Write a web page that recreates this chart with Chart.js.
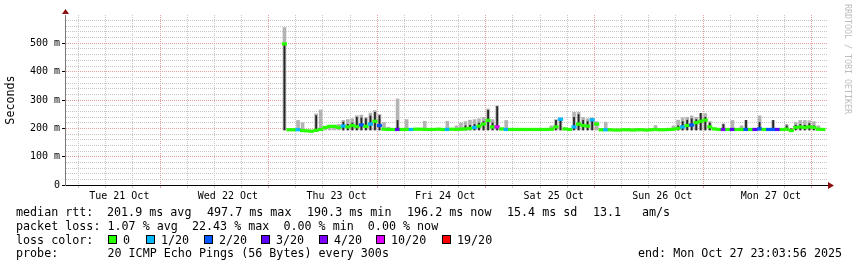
<!DOCTYPE html>
<html lang="en">
<head>
  <meta charset="UTF-8">
  <title>median rtt - last week</title>
  <script src="https://cdn.jsdelivr.net/npm/chart.js"></script>
  <style>
    body { margin: 0; background: #fff; }
    #wrap { position: relative; width: 857px; height: 267px; }
    .txt { position: absolute; font-family: 'DejaVu Sans Mono', monospace; font-size: 11.7px; line-height: 14px; color: #000; white-space: pre; }
    .box { position: absolute; top: 235px; width: 7px; height: 7px; border: 1px solid #000; }
    #credit { position: absolute; left: 843px; top: 4px; font-family: 'DejaVu Sans Mono', monospace; font-size: 8.3px; color: #bdbdbd; writing-mode: vertical-rl; white-space: pre; }
  </style>
</head>
<body>
<div id="wrap">
  <canvas id="grafico"></canvas>
  <div id="credit">RRDTOOL / TOBI OETIKER</div>
  <div id="legenda"></div>
</div>

<script>
// hours are counted from Tue 21 Oct 00:00, one bin per hour
const firstHour = 48;
const dayLabels = ['Tue 21 Oct', 'Wed 22 Oct', 'Thu 23 Oct', 'Fri 24 Oct', 'Sat 25 Oct', 'Sun 26 Oct', 'Mon 27 Oct'];
const lossLabels = ['0', '1/20', '2/20', '3/20', '4/20', '10/20', '19/20'];
const lossColors = ['#26ff00', '#00b8ff', '#0059ff', '#5e00ff', '#7e00ff', '#dd00ff', '#ff0000'];

// median rtt in ms
const medianMs = [
  498, 195, 195, 195, 192, 191, 190, 193, 196, 203,
  207, 207, 203, 208, 205, 210, 206, 212, 207, 215,
  225, 210, 197, 196, 196, 196, 196, 196, 196, 197,
  197, 196, 196, 196, 197, 196, 196, 197, 196, 197,
  198, 200, 203, 208, 215, 228, 205, 205, 198, 196,
  196, 196, 196, 196, 196, 196, 196, 196, 196, 197,
  205, 232, 198, 196, 205, 215, 210, 208, 230, 215,
  195, 195, 195, 194, 194, 195, 195, 194, 195, 195,
  194, 195, 196, 195, 195, 196, 197, 200, 205, 210,
  212, 220, 225, 229, 205, 198, 196, 196, 196, 196,
  196, 196, 196, 196, 196, 198, 196, 196, 196, 196,
  196, 197, 192, 203, 205, 203, 205, 203, 197, 196
];
// index into lossLabels
const lossIdx = [
  0, 0, 0, 1, 0, 0, 0, 0, 0, 0,
  0, 0, 0, 1, 0, 0, 0, 2, 0, 1,
  0, 2, 0, 0, 0, 3, 0, 0, 1, 0,
  0, 0, 0, 0, 0, 0, 1, 0, 0, 0,
  0, 0, 1, 0, 0, 0, 0, 5, 0, 1,
  0, 0, 0, 0, 0, 0, 0, 0, 0, 0,
  0, 1, 0, 0, 1, 0, 0, 0, 1, 0,
  0, 1, 0, 0, 0, 0, 0, 0, 0, 0,
  0, 0, 0, 0, 0, 0, 0, 0, 1, 0,
  2, 0, 0, 0, 0, 0, 0, 4, 0, 3,
  0, 0, 2, 0, 3, 2, 0, 2, 2, 3,
  0, 0, 0, 0, 0, 0, 0, 0, 0, 0
];
// top of the light smoke (0 = only a thin band round the median)
const smokeTopMs = [
  557, 0, 0, 229, 221, 0, 0, 252, 266, 0,
  0, 0, 215, 229, 232, 235, 246, 248, 240, 255,
  264, 250, 222, 205, 0, 305, 0, 232, 0, 0,
  0, 226, 0, 0, 0, 0, 226, 0, 210, 220,
  225, 230, 232, 235, 240, 270, 232, 281, 0, 229,
  0, 0, 0, 0, 0, 0, 0, 0, 0, 210,
  232, 238, 0, 0, 258, 258, 240, 235, 238, 225,
  0, 223, 0, 0, 0, 0, 0, 0, 0, 0,
  0, 0, 211, 0, 0, 0, 210, 230, 238, 240,
  245, 240, 253, 253, 225, 0, 0, 217, 0, 229,
  0, 210, 229, 0, 0, 245, 0, 0, 229, 0,
  0, 215, 0, 222, 229, 229, 228, 225, 210, 0
];
// top of the dark smoke (0 = none)
const smokeDarkMs = [
  495, 0, 0, 0, 0, 0, 0, 246, 0, 0,
  0, 0, 0, 223, 215, 220, 240, 238, 235, 245,
  258, 246, 0, 0, 0, 229, 0, 0, 0, 0,
  0, 0, 0, 0, 0, 0, 0, 0, 0, 0,
  210, 212, 215, 220, 225, 265, 220, 278, 0, 0,
  0, 0, 0, 0, 0, 0, 0, 0, 0, 0,
  229, 235, 0, 0, 240, 250, 229, 225, 234, 0,
  0, 0, 0, 0, 0, 0, 0, 0, 0, 0,
  0, 0, 200, 0, 0, 0, 0, 210, 225, 230,
  235, 232, 254, 240, 220, 0, 0, 215, 0, 0,
  0, 0, 229, 0, 0, 222, 0, 0, 229, 0,
  0, 210, 200, 212, 215, 212, 218, 210, 0, 0
];

const yTicks = [];
for (let v = 0; v <= 580; v += 20) yTicks.push(v);
const xTicks = [];
for (let h = 0; h <= 168; h += 6) xTicks.push(h);

const times = medianMs.map((_, i) => firstHour + i + 0.5);
const base = i => Math.min(medianMs[i], 196) - 3;

const medianBars = times.map((t, i) => ({ x: t, y: [medianMs[i] - 4.5, medianMs[i] + 4.5] }));
const lightSmoke = times.map((t, i) => ({ x: t, y: [base(i), smokeTopMs[i] || medianMs[i] + 4] }));
const darkSmoke = [];
times.forEach((t, i) => { if (smokeDarkMs[i]) darkSmoke.push({ x: t, y: [base(i), smokeDarkMs[i]] }); });

const fonte = { family: 'DejaVu Sans Mono', size: 10 };
const vermelho = '#e9a0a0';
const cinza = '#c6c6c6';

const setas = {
  id: 'setas',
  afterDraw(chart) {
    const { ctx, chartArea: a } = chart;
    ctx.save();
    ctx.fillStyle = '#8b1010';
    ctx.beginPath();
    ctx.moveTo(a.left - 3, a.top - 1);
    ctx.lineTo(a.left + 4, a.top - 1);
    ctx.lineTo(a.left + 0.5, a.top - 6);
    ctx.fill();
    ctx.beginPath();
    ctx.moveTo(a.right + 1, a.bottom - 3);
    ctx.lineTo(a.right + 1, a.bottom + 4);
    ctx.lineTo(a.right + 7, a.bottom + 0.5);
    ctx.fill();
    ctx.restore();
  }
};

new Chart(document.getElementById('grafico'), {
  type: 'bar',
  data: {
    datasets: [
      { data: medianBars, order: 0, grouped: false, barPercentage: 1, categoryPercentage: 1,
        backgroundColor: c => lossColors[lossIdx[c.dataIndex]] },
      { data: darkSmoke, order: 1, grouped: false, barPercentage: 0.4, categoryPercentage: 1,
        backgroundColor: '#262626' },
      { data: lightSmoke, order: 2, grouped: false, barPercentage: 0.8, categoryPercentage: 1,
        backgroundColor: '#b3b3b3' }
    ]
  },
  options: {
    responsive: true,
    maintainAspectRatio: false,
    animation: false,
    layout: { padding: { top: 15, right: 30, left: 0, bottom: 0 } },
    plugins: { legend: { display: false }, tooltip: { enabled: false } },
    scales: {
      x: {
        type: 'linear', min: 0, max: 168.4, offset: false,
        afterFit(s) { s.height = 82; },
        afterBuildTicks(s) { s.ticks = xTicks.map(v => ({ value: v })); },
        ticks: {
          autoSkip: false, maxRotation: 0, padding: 2, color: '#000', font: fonte,
          callback: v => v % 24 === 12 ? dayLabels[(v - 12) / 24] : ''
        },
        grid: { color: c => c.tick && c.tick.value % 24 === 0 ? vermelho : cinza, tickLength: 3 },
        border: { color: '#000', dash: [1, 1] }
      },
      y: {
        min: 0, max: 600,
        afterFit(s) { s.width = 65; },
        afterBuildTicks(s) { s.ticks = yTicks.map(v => ({ value: v })); },
        ticks: {
          autoSkip: false, padding: 2, color: '#000', font: fonte,
          callback: v => v % 100 === 0 ? (v === 0 ? '0' : v + ' m') : ''
        },
        grid: {
          color: c => c.tick && c.tick.value % 100 === 0 ? vermelho : cinza,
          tickColor: c => c.tick && c.tick.value % 100 === 0 ? '#000' : 'rgba(0,0,0,0)',
          tickLength: 3
        },
        border: { color: '#7a7a7a', dash: [1, 1] },
        title: { display: true, text: 'Seconds', color: '#000', padding: { top: 4, bottom: 0 },
                 font: { family: 'DejaVu Sans Mono', size: 11.7 } }
      }
    }
  },
  plugins: [setas]
});

// legend below the graph
const legenda = document.getElementById('legenda');
function texto(s, x, y) {
  const d = document.createElement('div');
  d.className = 'txt';
  d.style.left = x + 'px';
  d.style.top = y + 'px';
  d.textContent = s;
  legenda.appendChild(d);
}
texto('median rtt:', 16, 205);
texto('201.9 ms avg', 107, 205);
texto('497.7 ms max', 207, 205);
texto('190.3 ms min', 307, 205);
texto('196.2 ms now', 407, 205);
texto('15.4 ms sd', 507, 205);
texto('13.1', 593, 205);
texto('am/s', 642, 205);
texto('packet loss: 1.07 % avg  22.43 % max  0.00 % min  0.00 % now', 16, 218.5);
texto('loss color:', 16, 232.5);
const caixaX = [108, 146, 204, 261, 319, 376, 442];
lossLabels.forEach((l, i) => {
  const b = document.createElement('div');
  b.className = 'box';
  b.style.left = caixaX[i] + 'px';
  b.style.background = lossColors[i];
  legenda.appendChild(b);
  texto(l, caixaX[i] + 15, 232.5);
});
texto('probe:       20 ICMP Echo Pings (56 Bytes) every 300s', 16, 246);
texto('end: Mon Oct 27 23:03:56 2025', 638, 246);
</script>
</body>
</html>
